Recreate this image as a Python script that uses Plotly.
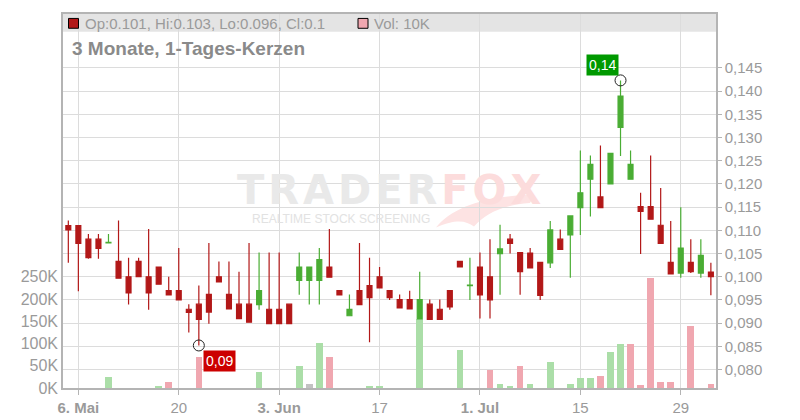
import plotly.graph_objects as go

# ---------------- data ----------------
day_index = list(range(65))  # trading days 3 May .. 1 Aug
tick_index = [1, 11, 21, 31, 41, 51, 61]
tick_labels = ["<b>6. Mai</b>", "20", "<b>3. Jun</b>", "17", "<b>1. Jul</b>", "15", "29"]

opens = [0.1110, 0.1110, 0.1081, 0.1081, 0.1073, 0.1033, 0.1000, 0.1033, 0.1000, 0.1021,
         0.0970, 0.0970, 0.0930, 0.0941, 0.0962, 0.1000, 0.0962, 0.0941, 0.0941, 0.0940,
         0.0930, 0.0930, 0.0941, 0.0992, 0.0992, 0.0992, 0.1021, 0.0970, 0.0916, 0.0970,
         0.0981, 0.1000, 0.0970, 0.0951, 0.0951, 0.0909, 0.0941, 0.0930, 0.0970, 0.1033,
         0.0981, 0.1021, 0.1000, 0.1050, 0.1081, 0.1052, 0.1051, 0.1031, 0.1030, 0.1081,
         0.1090, 0.1149, 0.1210, 0.1172, 0.1200, 0.1322, 0.1210, 0.1151, 0.1151, 0.1111,
         0.1031, 0.1008, 0.1031, 0.1008, 0.101]
highs = [0.1121, 0.1110, 0.1092, 0.1092, 0.1092, 0.1121, 0.1041, 0.1041, 0.1103, 0.1021,
         0.1000, 0.1062, 0.0941, 0.0981, 0.1073, 0.1033, 0.1033, 0.1011, 0.1073, 0.1052,
         0.1052, 0.1052, 0.0941, 0.1052, 0.1021, 0.1062, 0.1103, 0.0970, 0.0962, 0.1073,
         0.1041, 0.1021, 0.0970, 0.0962, 0.0970, 0.1011, 0.0951, 0.0951, 0.0970, 0.1033,
         0.1041, 0.1052, 0.1081, 0.1112, 0.1092, 0.1052, 0.1062, 0.1031, 0.1120, 0.1102,
         0.1131, 0.1272, 0.1261, 0.1283, 0.1266, 0.1423, 0.1272, 0.1181, 0.1261, 0.1191,
         0.1120, 0.1150, 0.1081, 0.1081, 0.103]
lows = [0.1030, 0.0969, 0.1039, 0.1039, 0.1073, 0.0997, 0.0940, 0.1000, 0.0929, 0.0984,
        0.0961, 0.0950, 0.0880, 0.0852, 0.0899, 0.0989, 0.0931, 0.0910, 0.0902, 0.0929,
        0.0899, 0.0899, 0.0899, 0.0961, 0.0940, 0.0940, 0.0999, 0.0961, 0.0916, 0.0940,
        0.0859, 0.0976, 0.0950, 0.0933, 0.0931, 0.0909, 0.0908, 0.0908, 0.0929, 0.1021,
        0.0950, 0.0910, 0.0910, 0.0961, 0.1050, 0.0961, 0.1019, 0.0950, 0.1019, 0.1059,
        0.0998, 0.1090, 0.1130, 0.1149, 0.1200, 0.1260, 0.1210, 0.1049, 0.1124, 0.1072,
        0.1006, 0.0998, 0.1008, 0.0998, 0.096]
closes = [0.1101, 0.1072, 0.1041, 0.1061, 0.1074, 0.0997, 0.0965, 0.1000, 0.0965, 0.0984,
          0.0961, 0.0950, 0.0923, 0.0908, 0.0924, 0.0989, 0.0931, 0.0910, 0.0902, 0.0970,
          0.0899, 0.0899, 0.0899, 0.1021, 0.1021, 0.1037, 0.0999, 0.0961, 0.0930, 0.0940,
          0.0955, 0.0976, 0.0955, 0.0933, 0.0931, 0.0951, 0.0908, 0.0908, 0.0935, 0.1021,
          0.0982, 0.0961, 0.0950, 0.1060, 0.1072, 0.1011, 0.1019, 0.0960, 0.1101, 0.1059,
          0.1131, 0.1181, 0.1242, 0.1149, 0.1266, 0.1389, 0.1242, 0.1141, 0.1124, 0.1072,
          0.1006, 0.1062, 0.1011, 0.1046, 0.100]
volume_k = [0, 0, 0, 0, 25, 0, 0, 0, 0, 3,
            14, 0, 0, 69, 0, 0, 0, 0, 0, 35,
            0, 0, 0, 49, 10, 101, 69, 0, 0, 0,
            3, 3, 0, 0, 0, 156, 0, 0, 0, 85,
            0, 0, 40, 9, 3, 49, 9, 0, 58, 0,
            9, 23, 23, 27, 80, 99, 99, 7, 248, 14,
            13, 0, 139, 0, 10]

vol_ticks_k = [0, 50, 100, 150, 200, 250]
price_ticks = [0.080, 0.085, 0.090, 0.095, 0.100, 0.105, 0.110, 0.115,
               0.120, 0.125, 0.130, 0.135, 0.140, 0.145]

# ---------------- style ----------------
FONT = "Liberation Sans, Arial, sans-serif"
RED = "#b21818"
GREEN = "#4aad34"
VOL_UP = "#abdea8"
VOL_DOWN = "#f0a7b0"
VOL_FLAT = "#c2c2c2"
GRID = "#dcdcdc"
AXIS = "#b4b4b4"
TXT = "#9a9a9a"

# page body has an 8px margin -> figure is 792x412 placed at (8, 8)
OFF = 8
W, H = 800 - OFF, 420 - OFF
PL, PR, PT, PB = 63, 716, 12, 392          # plot area in page pixels
ML, MR, MT, MB = PL - OFF, 800 - PR, PT - OFF, 420 - PB
PW, PH = PR - PL, PB - PT


def px(x):
    return (x - PL) / PW


def py(y):
    return (PB - y) / PH


volume = [v * 1000 for v in volume_k]
vol_colors = []
for i, c in enumerate(closes):
    prev = closes[i - 1] if i > 0 else c
    vol_colors.append(VOL_UP if c > prev else (VOL_DOWN if c < prev else VOL_FLAT))

fig = go.Figure()

fig.add_trace(go.Bar(
    x=day_index, y=volume, marker=dict(color=vol_colors, line=dict(width=0)),
    width=0.66, yaxis="y", showlegend=False, hoverinfo="skip"))

fig.add_trace(go.Candlestick(
    x=day_index, open=opens, high=highs, low=lows, close=closes, yaxis="y2",
    increasing=dict(line=dict(color=GREEN, width=1.2), fillcolor=GREEN),
    decreasing=dict(line=dict(color=RED, width=1.2), fillcolor=RED),
    whiskerwidth=0, showlegend=False))

imin = min(range(len(lows)), key=lambda i: lows[i])
imax = max(range(len(highs)), key=lambda i: highs[i])
fig.add_trace(go.Scatter(
    x=[day_index[imin], day_index[imax]], y=[lows[imin], highs[imax]], yaxis="y2",
    mode="markers", showlegend=False, hoverinfo="skip",
    marker=dict(symbol="circle-open", size=11, color="#222", line=dict(width=1))))

fig.add_annotation(x=day_index[imin], y=lows[imin], xref="x", yref="y2",
                   text=f"{lows[imin]:.2f}".replace(".", ","), showarrow=False,
                   xanchor="left", yanchor="top", xshift=4, yshift=-5,
                   bgcolor="#cc0000", borderpad=2,
                   font=dict(family=FONT, size=14, color="white"))
fig.add_annotation(x=day_index[imax], y=highs[imax], xref="x", yref="y2",
                   text=f"{highs[imax]:.2f}".replace(".", ","), showarrow=False,
                   xanchor="right", yanchor="bottom", xshift=-2, yshift=4,
                   bgcolor="#009900", borderpad=2,
                   font=dict(family=FONT, size=14, color="white"))

# legend band
fig.add_shape(type="rect", xref="paper", yref="paper", x0=0, x1=1,
              y0=py(30), y1=1, fillcolor="#e4e4e4", line=dict(width=0), layer="below")
fig.add_shape(type="rect", xref="paper", yref="paper", x0=px(68.5), x1=px(78.5),
              y0=py(26.5), y1=py(16.5), fillcolor=RED, line=dict(color="black", width=1))
fig.add_shape(type="rect", xref="paper", yref="paper", x0=px(358), x1=px(368),
              y0=py(26.5), y1=py(16.5), fillcolor=VOL_DOWN, line=dict(color="black", width=1))
fig.add_annotation(xref="paper", yref="paper", x=px(83), y=py(21.5), xanchor="left",
                   yanchor="middle", showarrow=False,
                   text=f"Op:{opens[-1]}, Hi:{highs[-1]}, Lo:{lows[-1]}, Cl:{closes[-1]}",
                   font=dict(family=FONT, size=15, color=TXT))
fig.add_annotation(xref="paper", yref="paper", x=px(372), y=py(21.5), xanchor="left",
                   yanchor="middle", showarrow=False,
                   text=f"Vol: {volume_k[-1]}K",
                   font=dict(family=FONT, size=15, color=TXT))
fig.add_annotation(xref="paper", yref="paper", x=px(70), y=py(47.5), xanchor="left",
                   yanchor="middle", showarrow=False,
                   text="<b>3 Monate, 1-Tages-Kerzen</b>",
                   font=dict(family=FONT, size=19, color="#8a8a8a"))

# watermark: fox tail swoosh (decoration) + text
tail_pts = [("M", 436, 229), ("C", 452, 208, 488, 196, 534, 196), ("L", 530, 204),
            ("C", 503, 206, 486, 214, 474, 228), ("C", 466, 222, 456, 220, 436, 229)]
path = ""
for seg in tail_pts:
    cmd, coords = seg[0], seg[1:]
    pts = [f"{px(coords[k]):.4f},{py(coords[k + 1]):.4f}" for k in range(0, len(coords), 2)]
    path += cmd + " " + " ".join(pts) + " "
fig.add_shape(type="path", xref="paper", yref="paper", path=path + "Z",
              fillcolor="#fde3e3", line=dict(width=0), layer="below")

hs = "\u200a"
fig.add_annotation(xref="paper", yref="paper", x=px(389), y=py(191), xanchor="center",
                   yanchor="middle", showarrow=False,
                   text="<b><span style='color:#e9e9e9'>" + hs.join("TRADER") + hs + "</span>"
                        "<span style='color:#fcdcdc'>" + hs.join("FOX") + "</span></b>",
                   font=dict(family="DejaVu Sans", size=40, color="#e9e9e9"))
fig.add_annotation(xref="paper", yref="paper", x=px(250), y=py(220), xanchor="left",
                   yanchor="middle", showarrow=False,
                   text="REALTIME STOCK SCREENING",
                   font=dict(family=FONT, size=12, color="#e2e2e2"))

fig.update_layout(
    width=W, height=H, margin=dict(l=ML, r=MR, t=MT, b=MB),
    paper_bgcolor="white", plot_bgcolor="rgba(0,0,0,0)",
    font=dict(family=FONT, color=TXT),
    bargap=0, hovermode=False,
    xaxis=dict(range=[-0.53, 64.51], tickvals=tick_index, ticktext=tick_labels,
               showgrid=True, gridcolor=GRID, gridwidth=1, zeroline=False,
               ticks="outside", ticklen=5, tickcolor=AXIS,
               showline=True, linecolor=AXIS, linewidth=1.5, mirror=True,
               tickfont=dict(family=FONT, size=15, color=TXT),
               rangeslider=dict(visible=False), fixedrange=True),
    yaxis=dict(range=[0, 250000 * PH / 113], tickvals=[v * 1000 for v in vol_ticks_k],
               ticktext=[f"{v}K" for v in vol_ticks_k], showgrid=False, zeroline=False,
               ticks="", showline=True, linecolor=AXIS, linewidth=1.5,
               tickfont=dict(family=FONT, size=16, color=TXT), side="left"),
    yaxis2=dict(range=[0.07604, 0.15660], overlaying="y", side="right",
                tickvals=price_ticks, ticktext=[f"{v:.3f}".replace(".", ",") for v in price_ticks],
                showgrid=True, gridcolor=GRID, gridwidth=1, zeroline=False,
                ticks="outside", ticklen=4, tickcolor=AXIS,
                showline=True, linecolor=AXIS, linewidth=1.5,
                tickfont=dict(family=FONT, size=15, color=TXT)),
)

fig.write_html("out.html")
